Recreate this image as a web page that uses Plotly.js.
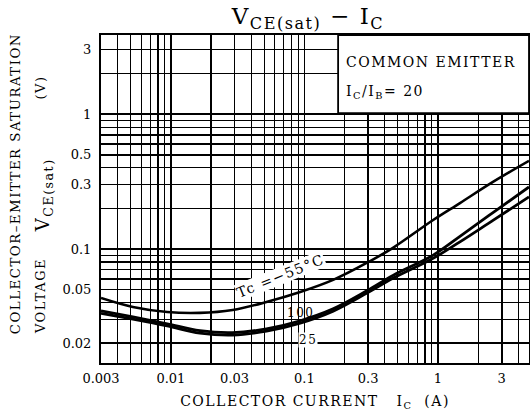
<!DOCTYPE html>
<html>
<head>
<meta charset="utf-8">
<script src="https://cdn.plot.ly/plotly-3.0.1.min.js"></script>
<style>
  html, body { margin: 0; padding: 0; background: #fff; }
  #chart { width: 530px; height: 417px; }
  .gtitle, .xtitle, .annotation-text { letter-spacing: 1.5px; }
</style>
</head>
<body>
<div id="chart"></div>
<script>
// Collector current I_C (A) sample points
const icPoints = [0.003, 0.0052, 0.0094, 0.0165, 0.029, 0.052, 0.093, 0.164, 0.294, 0.46, 0.92, 1.46, 2.58, 4.8];
// V_CE(sat) (V) for each case temperature
const vceM55 = [0.0434, 0.0372, 0.0341, 0.0336, 0.0353, 0.0405, 0.048, 0.059, 0.079, 0.102, 0.164, 0.219, 0.314, 0.45];
const vce100 = [0.0348, 0.0314, 0.0279, 0.0248, 0.0240, 0.0256, 0.0294, 0.0360, 0.049, 0.0637, 0.090, 0.124, 0.186, 0.288];
const vce25  = [0.0334, 0.0302, 0.0269, 0.0238, 0.0230, 0.0246, 0.0282, 0.0346, 0.0471, 0.0606, 0.0853, 0.113, 0.163, 0.243];

// Tick labels
const xTickVals = [0.003, 0.01, 0.03, 0.1, 0.3, 1, 3];
const xTickText = ['0.003', '0.01', '0.03', '0.1', '0.3', '1', '3'];
const yTickVals = [0.02, 0.05, 0.1, 0.3, 0.5, 1, 3];
const yTickText = ['0.02', '0.05', '0.1', '0.3', '0.5', '1', '3'];

// minor grid positions (1-2-...-9 per decade)
function minorVals(lo, hi, majors) {
  const out = [];
  for (let e = -3; e <= 1; e++) {
    for (let m = 1; m <= 9; m++) {
      const v = +(m * Math.pow(10, e)).toPrecision(3);
      if (v >= lo && v <= hi && majors.indexOf(v) < 0) out.push(v);
    }
  }
  return out;
}
const xMinor = minorVals(0.003, 4.8, xTickVals);
const yMinor = minorVals(0.0143, 3.85, yTickVals);

const line = (w) => ({ color: '#000', width: w, shape: 'spline', smoothing: 1 });
const traces = [
  { x: icPoints, y: vceM55, mode: 'lines', name: 'Tc = -55°C', line: line(2.6), hoverinfo: 'x+y+name' },
  { x: icPoints, y: vce100, mode: 'lines', name: 'Tc = 100°C', line: line(2.8), hoverinfo: 'x+y+name' },
  { x: icPoints, y: vce25,  mode: 'lines', name: 'Tc = 25°C',  line: line(2.8), hoverinfo: 'x+y+name' }
];

const FONT = 'DejaVu Serif, serif';
const lg = Math.log10;
const rot = (x, y, text, size) => ({
  xref: 'paper', yref: 'paper', x: x, y: y, xanchor: 'center', yanchor: 'middle',
  text: text, textangle: -90, showarrow: false, font: { size: size }
});

const layout = {
  width: 530, height: 417,
  margin: { l: 101, r: 1, t: 35, b: 54 },
  paper_bgcolor: '#fff', plot_bgcolor: '#fff',
  showlegend: false,
  font: { family: FONT, color: '#000', size: 13 },
  title: {
    text: 'V<sub>CE(sat)</sub> − I<sub>C</sub>',
    font: { size: 23, family: FONT, color: '#000' },
    x: 0.581, xref: 'container', xanchor: 'center',
    y: 1 - 16 / 417, yref: 'container', yanchor: 'middle'
  },
  xaxis: {
    type: 'log', range: [lg(0.003), lg(4.8)],
    tickmode: 'array', tickvals: xTickVals, ticktext: xTickText,
    ticks: '', ticklabelstandoff: 2, tickfont: { size: 13 },
    showgrid: true, gridcolor: '#000', gridwidth: 1.7,
    minor: { tickmode: 'array', tickvals: xMinor, showgrid: true, gridcolor: '#000', gridwidth: 1.2, ticks: '' },
    showline: true, linecolor: '#000', linewidth: 2, mirror: true, zeroline: false,
    title: { text: 'COLLECTOR CURRENT\u00a0\u00a0\u00a0I<sub>C</sub>\u00a0\u00a0(A)', standoff: 12, font: { size: 14 } }
  },
  yaxis: {
    type: 'log', range: [lg(0.0143), lg(3.85)],
    tickmode: 'array', tickvals: yTickVals, ticktext: yTickText,
    ticks: '', ticklabelstandoff: 5, tickfont: { size: 13 },
    showgrid: true, gridcolor: '#000', gridwidth: 1.7,
    minor: { tickmode: 'array', tickvals: yMinor, showgrid: true, gridcolor: '#000', gridwidth: 1.2, ticks: '' },
    showline: true, linecolor: '#000', linewidth: 2, mirror: true, zeroline: false
  },
  shapes: [
    { type: 'rect', xref: 'paper', yref: 'paper', x0: 0.554, x1: 1, y0: 0.762, y1: 1,
      fillcolor: '#fff', line: { color: '#000', width: 1.8 }, layer: 'above' }
  ],
  annotations: [
    { xref: 'paper', yref: 'paper', x: 0.567, y: 0.918, xanchor: 'left', yanchor: 'middle',
      text: 'COMMON EMITTER', showarrow: false, font: { size: 14 } },
    { xref: 'paper', yref: 'paper', x: 0.567, y: 0.826, xanchor: 'left', yanchor: 'middle',
      text: 'I<sub>C</sub>/I<sub>B</sub>= 20', showarrow: false, font: { size: 14 } },
    { xref: 'x', yref: 'y', x: lg(0.0657), y: lg(0.063), xanchor: 'center', yanchor: 'middle',
      text: 'Tc =−55°C', textangle: -22,
      showarrow: false, font: { size: 14 }, bgcolor: '#fff', borderpad: 0 },
    { xref: 'x', yref: 'y', x: lg(0.094), y: lg(0.0338), xanchor: 'center', yanchor: 'middle',
      text: '100', showarrow: false, font: { size: 12 } },
    { xref: 'x', yref: 'y', x: lg(0.106), y: lg(0.0212), xanchor: 'center', yanchor: 'middle',
      text: '25', showarrow: false, font: { size: 12 }, bgcolor: '#fff', borderpad: 0 },
    rot(-0.201, 0.548, 'COLLECTOR–EMITTER SATURATION', 13.3),
    rot(-0.1425, 0.204, 'VOLTAGE', 13),
    rot(-0.133, 0.512, 'V<sub>CE(sat)</sub>', 18),
    rot(-0.1425, 0.84, '(V)', 13)
  ]
};

Plotly.newPlot('chart', traces, layout, { displayModeBar: false, staticPlot: true });
</script>
</body>
</html>
